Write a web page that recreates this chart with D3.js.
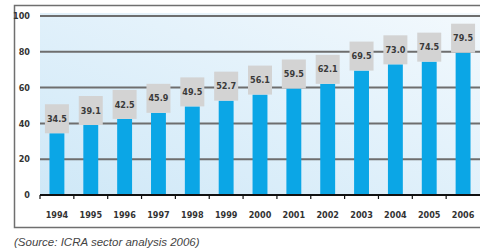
<!DOCTYPE html>
<html><head><meta charset="utf-8">
<script src="https://cdn.jsdelivr.net/npm/d3@7"></script>
<style>
html,body{margin:0;padding:0;background:#fff;}
svg{display:block;}
</style></head>
<body>
<svg id="c" width="480" height="251"></svg>
<script>
const years = ["1994","1995","1996","1997","1998","1999","2000","2001","2002","2003","2004","2005","2006"];
const values = [34.5, 39.1, 42.5, 45.9, 49.5, 52.7, 56.1, 59.5, 62.1, 69.5, 73.0, 74.5, 79.5];
const yTicks = [0, 20, 40, 60, 80, 100];
const sourceText = "(Source: ICRA sector analysis 2006)";

const svg = d3.select("#c");
const narrow = "'Liberation Sans Narrow','Arial Narrow','DejaVu Sans Condensed',sans-serif";

const x = d3.scaleBand().domain(years).range([40, 480]).paddingInner(0.56).paddingOuter(0.28);
const y = d3.scaleLinear().domain([0, 100]).range([195, 16]);

const defs = svg.append("defs");
const g = defs.append("linearGradient").attr("id","bg").attr("x1","0").attr("y1","1").attr("x2","1").attr("y2","0");
g.append("stop").attr("offset","0").attr("stop-color","#cfe8f7");
g.append("stop").attr("offset","0.6").attr("stop-color","#e4f2fb");
g.append("stop").attr("offset","1").attr("stop-color","#f3f9fd");

// frame
svg.append("rect").attr("x",14.5).attr("y",5.5).attr("width",470).attr("height",222)
  .attr("fill","#fff").attr("stroke","#6f6f6f").attr("stroke-width",1.5);

// plot background
svg.append("rect").attr("x",40).attr("y",13).attr("width",440).attr("height",182).attr("fill","url(#bg)");

// gridlines
svg.append("g").selectAll("line").data(yTicks.filter(d=>d>0)).join("line")
  .attr("x1",40).attr("x2",480).attr("y1",d=>y(d)).attr("y2",d=>y(d))
  .attr("stroke","#6e6e6e").attr("stroke-width",2);

// y labels
svg.append("g").selectAll("text").data(yTicks).join("text")
  .attr("x",30).attr("y",d=>y(d)).attr("dy","0.35em").attr("text-anchor","end")
  .attr("font-family",narrow).attr("font-weight","bold").attr("font-size",9).attr("fill","#333")
  .text(d=>d);

// bars
svg.append("g").selectAll("rect").data(values).join("rect")
  .attr("x",(d,i)=>x(years[i])).attr("width",x.bandwidth())
  .attr("y",d=>y(d)).attr("height",d=>y(0)-y(d)).attr("fill","#0ba6e6");

// value boxes
const lab = svg.append("g").selectAll("g").data(values).join("g")
  .attr("transform",(d,i)=>`translate(${x(years[i])+x.bandwidth()/2},${y(d)})`);
lab.append("rect").attr("x",-12).attr("y",-29).attr("width",24).attr("height",29).attr("fill","#d3d3d3");
lab.append("text").attr("y",-14.5).attr("dy","0.35em").attr("text-anchor","middle")
  .attr("font-family",narrow).attr("font-weight","bold").attr("font-size",9).attr("fill","#3a3a3a")
  .text(d=>d.toFixed(1));

// x axis
const xAxis = d3.axisBottom(x).tickSize(0).tickPadding(0);
const ax = svg.append("g").attr("transform","translate(0,195)").call(xAxis);
ax.select(".domain").remove();
ax.selectAll("text").attr("y",20).attr("dy","0.35em")
  .attr("font-family",narrow).attr("font-weight","bold").attr("font-size",9).attr("fill","#333");
svg.append("line").attr("x1",40).attr("x2",480).attr("y1",195).attr("y2",195).attr("stroke","#111").attr("stroke-width",2);
const step = x.step();
svg.append("g").selectAll("line").data(d3.range(years.length)).join("line")
  .attr("x1",i=>40+i*step).attr("x2",i=>40+i*step).attr("y1",195).attr("y2",199)
  .attr("stroke","#111").attr("stroke-width",1.2);

// source
svg.append("text").attr("x",14).attr("y",246).attr("font-family","'Liberation Sans',Arial,sans-serif")
  .attr("font-style","italic").attr("font-size",11.5).attr("fill","#444").text(sourceText);
</script>
</body></html>
